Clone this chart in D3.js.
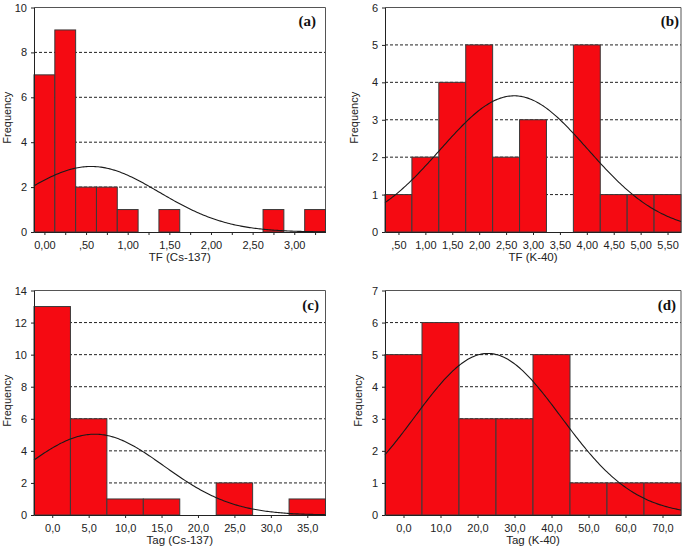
<!DOCTYPE html>
<html><head><meta charset="utf-8">
<script src="https://cdn.jsdelivr.net/npm/d3@7"></script>
<style>body{margin:0;background:#fff} svg{display:block}</style>
</head><body><svg id="c" width="685" height="550"></svg>
<script>
// ---- data ----
const aCenters = [0, 0.25, 0.5, 0.75, 1, 1.25, 1.5, 1.75, 2, 2.25, 2.5, 2.75, 3, 3.25];
const aCounts  = [7, 9, 2, 2, 1, 0, 1, 0, 0, 0, 0, 1, 0, 1];
const aXLabels = ["0,00", "", ",50", "", "1,00", "", "1,50", "", "2,00", "", "2,50", "", "3,00", ""];
const aYTicks  = [0, 2, 4, 6, 8, 10];
const aFit     = [0.56, 0.82];   // mean, sd of the normal curve

const bCenters = [0.5, 1, 1.5, 2, 2.5, 3, 3.5, 4, 4.5, 5, 5.5];
const bCounts  = [1, 2, 4, 5, 2, 3, 0, 5, 1, 1, 1];
const bXLabels = [",50", "1,00", "1,50", "2,00", "2,50", "3,00", "3,50", "4,00", "4,50", "5,00", "5,50"];
const bYTicks  = [0, 1, 2, 3, 4, 5, 6];
const bFit     = [2.65, 1.37];

const cCenters = [0, 5, 10, 15, 20, 25, 30, 35];
const cCounts  = [13, 6, 1, 1, 0, 2, 0, 1];
const cXLabels = ["0,0", "5,0", "10,0", "15,0", "20,0", "25,0", "30,0", "35,0"];
const cYTicks  = [0, 2, 4, 6, 8, 10, 12, 14];
const cFit     = [5.83, 9.5];

const dCenters = [0, 10, 20, 30, 40, 50, 60, 70];
const dCounts  = [5, 6, 3, 3, 5, 1, 1, 1];
const dXLabels = ["0,0", "10,0", "20,0", "30,0", "40,0", "50,0", "60,0", "70,0"];
const dYTicks  = [0, 1, 2, 3, 4, 5, 6, 7];
const dFit     = [22.8, 19.8];

const panels = [
  {centers:aCenters, counts:aCounts, xLabels:aXLabels, yTicks:aYTicks, fit:aFit, title:"TF (Cs-137)", tag:"(a)",
   box:{x0:34, x1:325.5, y0:7.5, y1:232}, ylabX:11, tagX:316, tagY:26},
  {centers:bCenters, counts:bCounts, xLabels:bXLabels, yTicks:bYTicks, fit:bFit, title:"TF (K-40)", tag:"(b)",
   box:{x0:385, x1:681, y0:7.5, y1:232}, ylabX:358, tagX:679, tagY:26},
  {centers:cCenters, counts:cCounts, xLabels:cXLabels, yTicks:cYTicks, fit:cFit, title:"Tag (Cs-137)", tag:"(c)",
   box:{x0:34, x1:325.5, y0:290.5, y1:515}, ylabX:11, tagX:319, tagY:310},
  {centers:dCenters, counts:dCounts, xLabels:dXLabels, yTicks:dYTicks, fit:dFit, title:"Tag (K-40)", tag:"(d)",
   box:{x0:385, x1:681, y0:290.5, y1:515}, ylabX:362, tagX:676, tagY:310}
];

const svg = d3.select("#c");
const FONT = "'Liberation Sans', Arial, sans-serif";

panels.forEach(p => {
  const bw = p.centers[1] - p.centers[0];
  const n = d3.sum(p.counts);
  const xMin = p.centers[0] - bw/2, xMax = p.centers[p.centers.length-1] + bw/2;
  const x = d3.scaleLinear().domain([xMin, xMax]).range([p.box.x0, p.box.x1]);
  const y = d3.scaleLinear().domain([0, d3.max(p.yTicks)]).range([p.box.y1, p.box.y0]);
  const g = svg.append("g");

  // grid
  g.selectAll(".grid").data(p.yTicks.slice(1, -1)).join("line")
    .attr("x1", p.box.x0).attr("x2", p.box.x1)
    .attr("y1", d => y(d)).attr("y2", d => y(d))
    .attr("stroke", "#222").attr("stroke-width", 1).attr("stroke-dasharray", "3,2");

  // frame (top + right)
  g.append("path")
    .attr("d", `M${p.box.x0},${p.box.y0}H${p.box.x1}V${p.box.y1}`)
    .attr("fill", "none").attr("stroke", "#555").attr("stroke-width", 1);

  // bars
  g.selectAll(".bar").data(p.centers.map((c,i) => ({c, v:p.counts[i]})).filter(d => d.v > 0)).join("rect")
    .attr("x", d => x(d.c - bw/2)).attr("width", d => x(d.c + bw/2) - x(d.c - bw/2))
    .attr("y", d => y(d.v)).attr("height", d => y(0) - y(d.v))
    .attr("fill", "#f50a12").attr("stroke", "#3a3a3a").attr("stroke-width", 1);

  // normal curve
  const [m, s] = p.fit;
  const pts = d3.range(0, 201).map(i => {
    const xv = xMin + (xMax - xMin) * i / 200;
    const yv = n * bw / (s * Math.sqrt(2*Math.PI)) * Math.exp(-((xv-m)**2) / (2*s*s));
    return [x(xv), y(yv)];
  });
  g.append("path").attr("d", d3.line()(pts))
    .attr("fill", "none").attr("stroke", "#1a1a1a").attr("stroke-width", 1.1);

  // axes
  const ax = g.append("g").attr("transform", `translate(0,${p.box.y1})`)
    .call(d3.axisBottom(x).tickValues(p.centers).tickFormat((d,i) => p.xLabels[i]).tickSize(3).tickPadding(6).tickSizeOuter(0));
  const ay = g.append("g").attr("transform", `translate(${p.box.x0},0)`)
    .call(d3.axisLeft(y).tickValues(p.yTicks).tickFormat(d3.format("d")).tickSize(3).tickPadding(4).tickSizeOuter(0));
  [ax, ay].forEach(a => {
    a.select(".domain").attr("stroke", "#222");
    a.selectAll(".tick line").attr("stroke", "#222");
    a.selectAll("text").attr("font-family", FONT).attr("font-size", 11).attr("fill", "#222");
  });

  // titles
  g.append("text").attr("x", (p.box.x0 + p.box.x1)/2).attr("y", p.box.y1 + 29)
    .attr("text-anchor", "middle").attr("font-family", FONT).attr("font-size", 11.5).attr("fill", "#222")
    .text(p.title);
  g.append("text").attr("transform", `translate(${p.ylabX},${(p.box.y0 + p.box.y1)/2 - 2}) rotate(-90)`)
    .attr("text-anchor", "middle").attr("font-family", FONT).attr("font-size", 11).attr("fill", "#222")
    .text("Frequency");
  g.append("text").attr("x", p.tagX).attr("y", p.tagY).attr("text-anchor", "end")
    .attr("font-family", "'Liberation Serif', 'Times New Roman', serif").attr("font-weight", "bold")
    .attr("font-size", 15).attr("fill", "#111").text(p.tag);
});
</script></body></html>
